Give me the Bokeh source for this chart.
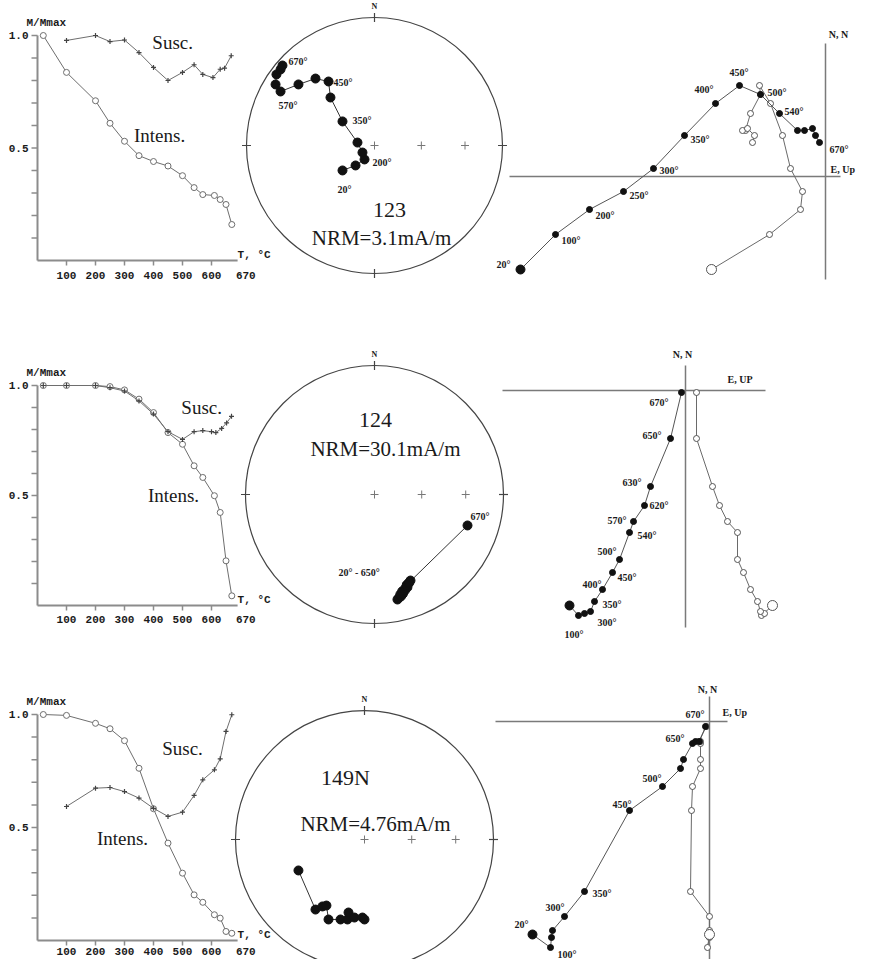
import math
from bokeh.plotting import figure
from bokeh.models import Range1d
from bokeh.core.properties import value
from bokeh.embed import file_html
from bokeh.resources import INLINE

# ================= DATA =================
# --- demagnetisation curves (T in deg C, M/Mmax) ---
dm_xticks = [100, 200, 300, 400, 500, 600]
dm_xtick_labels = ["100", "200", "300", "400", "500", "600"]
dm_yticks = [0.1, 0.2, 0.3, 0.4, 0.5, 0.6, 0.7, 0.8, 0.9, 1.0]
dm_ylabel_vals = [1.0, 0.5]
dm_ylabel_text = ["1.0", "0.5"]

s123_T = [20, 100, 200, 250, 300, 350, 400, 450, 500, 540, 570, 610, 630, 650, 670]
s123_intens = [1.0, 0.836, 0.71, 0.61, 0.53, 0.466, 0.44, 0.42, 0.377, 0.324, 0.293, 0.289, 0.271, 0.249, 0.16]
s123_susc_T = [100, 200, 250, 300, 350, 400, 450, 500, 540, 570, 605, 630, 645, 668]
s123_susc = [0.978, 1.0, 0.973, 0.98, 0.924, 0.858, 0.80, 0.836, 0.87, 0.827, 0.813, 0.85, 0.855, 0.91]

s124_T = [20, 100, 200, 250, 300, 350, 400, 450, 500, 540, 570, 610, 630, 650, 670]
s124_intens = [1.0, 1.0, 1.0, 0.995, 0.98, 0.938, 0.877, 0.786, 0.733, 0.635, 0.582, 0.499, 0.423, 0.203, 0.044]
s124_susc_T = [20, 100, 200, 250, 300, 350, 400, 450, 500, 540, 570, 600, 615, 635, 652, 669]
s124_susc = [1.0, 1.0, 1.0, 0.99, 0.975, 0.93, 0.87, 0.79, 0.755, 0.79, 0.795, 0.79, 0.786, 0.805, 0.83, 0.86]

s149_T = [20, 100, 200, 250, 300, 350, 400, 450, 500, 540, 570, 610, 630, 650, 670]
s149_intens = [1.0, 0.996, 0.961, 0.937, 0.884, 0.762, 0.583, 0.431, 0.298, 0.202, 0.169, 0.114, 0.099, 0.040, 0.032]
s149_susc_T = [100, 200, 250, 300, 350, 400, 450, 500, 540, 570, 610, 630, 650, 670]
s149_susc = [0.593, 0.674, 0.677, 0.659, 0.630, 0.585, 0.549, 0.568, 0.642, 0.711, 0.755, 0.804, 0.925, 0.999]

# --- equal-area stereonets (projected east / north, unit circle) ---
s123_st_E = [-0.25, -0.148, -0.078, -0.094, -0.133, -0.25, -0.344, -0.359, -0.461, -0.594, -0.734, -0.773, -0.766, -0.734, -0.719]
s123_st_N = [-0.195, -0.156, -0.109, -0.055, 0.023, 0.188, 0.375, 0.5, 0.523, 0.477, 0.422, 0.477, 0.555, 0.594, 0.625]
s123_st_lab_idx = [0, 2, 5, 7, 10, 14]
s123_st_lab = ["20°", "200°", "350°", "450°", "570°", "670°"]

s124_st_E = [0.178, 0.19, 0.205, 0.2, 0.22, 0.215, 0.235, 0.24, 0.255, 0.25, 0.265, 0.279, 0.27, 0.721]
s124_st_N = [-0.814, -0.80, -0.79, -0.775, -0.77, -0.75, -0.745, -0.725, -0.72, -0.70, -0.69, -0.667, -0.68, -0.240]
s124_st_lab_idx = [11, 13]
s124_st_lab = ["20° - 650°", "670°"]

s149_st_E = [-0.512, -0.380, -0.326, -0.295, -0.279, -0.186, -0.132, -0.124, -0.078, -0.016, 0.0]
s149_st_N = [-0.240, -0.543, -0.519, -0.512, -0.620, -0.620, -0.620, -0.566, -0.605, -0.605, -0.620]

# --- Zijderveld diagrams (N, E horizontal; N, Up vertical) ---
s123_zT = [20, 100, 200, 250, 300, 350, 400, 450, 500, 540, 570, 600, 620, 650, 670]
s123_zN = [-0.93, -0.58, -0.33, -0.15, 0.08, 0.41, 0.73, 0.91, 0.82, 0.63, 0.46, 0.46, 0.48, 0.41, 0.34]
s123_zE = [-3.05, -2.70, -2.36, -2.02, -1.72, -1.41, -1.10, -0.86, -0.65, -0.46, -0.28, -0.21, -0.13, -0.10, -0.06]
s123_zU = [-1.14, -0.56, -0.25, -0.23, -0.35, -0.43, -0.55, -0.66, -0.65, -0.75, -0.80, -0.83, -0.78, -0.71, -0.73]
s123_z_lab_idx = [0, 1, 2, 3, 4, 5, 6, 7, 8, 9, 14]
s123_z_lab = ["20°", "100°", "200°", "250°", "300°", "350°", "400°", "450°", "500°", "540°", "670°"]

s124_zT = [20, 100, 200, 300, 350, 400, 450, 500, 540, 570, 620, 630, 650, 670]
s124_zN = [-2.15, -2.25, -2.23, -2.21, -2.11, -1.99, -1.82, -1.69, -1.42, -1.31, -1.15, -0.96, -0.48, -0.02]
s124_zE = [-1.16, -1.07, -1.01, -0.95, -0.91, -0.83, -0.73, -0.66, -0.56, -0.52, -0.41, -0.35, -0.15, -0.04]
s124_zU = [0.87, 0.76, 0.79, 0.75, 0.72, 0.65, 0.58, 0.52, 0.52, 0.42, 0.34, 0.27, 0.11, 0.11]
s124_z_lab_idx = [1, 3, 4, 5, 6, 7, 8, 9, 10, 11, 12, 13]
s124_z_lab = ["100°", "300°", "350°", "400°", "450°", "500°", "540°", "570°", "620°", "630°", "650°", "670°"]

s149_zT = [20, 100, 200, 250, 300, 350, 450, 500, 540, 570, 600, 620, 650, 670]
s149_zN = [-2.13, -2.26, -2.16, -2.09, -1.95, -1.70, -0.89, -0.65, -0.47, -0.38, -0.22, -0.20, -0.20, -0.05]
s149_zE = [-1.77, -1.59, -1.58, -1.57, -1.45, -1.25, -0.80, -0.47, -0.29, -0.26, -0.17, -0.14, -0.10, -0.04]
s149_zU = [0.0, -0.02, 0.0, 0.0, 0.0, -0.19, -0.18, -0.17, -0.09, -0.09, -0.09, -0.09, -0.11, -0.03]
s149_z_lab_idx = [0, 1, 4, 5, 6, 7, 10, 13]
s149_z_lab = ["20°", "100°", "300°", "350°", "450°", "500°", "650°", "670°"]

sample_names = ["123", "124", "149N"]
nrm_texts = ["NRM=3.1mA/m", "NRM=30.1mA/m", "NRM=4.76mA/m"]

# ================= LAYOUT / STYLE =================
W, H, OFF = 856, 959, 8
SERIF = "Liberation Serif"
MONO = "Liberation Mono"
AXC = "#8c8c8c"
INK = "#1a1a1a"

p = figure(width=W, height=H, x_range=Range1d(0, W), y_range=Range1d(0, H),
           output_backend="svg", toolbar_location=None, min_border=0,
           x_axis_location=None, y_axis_location=None, outline_line_color=None,
           background_fill_color="white", border_fill_color="white")
p.grid.visible = False
p.xgrid.visible = False
p.ygrid.visible = False

xr, yr = {}, {}


def frame(name, rx0, sx, ry0, sy):
    """data value 0 placed at reference pixel (rx0, ry0) with sx, sy px per unit"""
    cx0 = rx0 - OFF
    xs = -cx0 / sx
    xr[name] = Range1d(xs, xs + W / sx)
    by0 = H - (ry0 - OFF)
    ys = -by0 / sy
    yr[name] = Range1d(ys, ys + H / sy)
    return dict(x_range_name=name, y_range_name=name)


rows = [
    dict(dm=(45, 268, 0.29, 225), st=(382, 153, 128), zj=(833, 184, 100)),
    dict(dm=(45, 613, 0.29, 220), st=(382, 502, 129), zj=(693, 398, 100)),
    dict(dm=(45, 948, 0.29, 226), st=(372, 847, 129), zj=(717, 729, 100)),
]
frames = []
for i, r in enumerate(rows):
    dx0, dy0, dsx, dsy = r["dm"]
    sx0, sy0, ss = r["st"]
    zx0, zy0, zs = r["zj"]
    frames.append(dict(
        dm=frame(f"dm{i}", dx0, dsx, dy0, dsy), dm_s=(dsx, dsy),
        st=frame(f"st{i}", sx0, ss, sy0, ss),
        zj=frame(f"zj{i}", zx0, zs, zy0, zs), zj_s=zs))
p.extra_x_ranges = xr
p.extra_y_ranges = yr


def txt(kw, x, y, t, size, font=SERIF, align="center", style="normal", dx=0, dy=0, color=INK):
    p.text(x=x, y=y, text=t, x_offset=dx, y_offset=dy, text_font=value(font),
           text_font_size=size, text_font_style=style, text_align=align,
           text_baseline="middle", text_color=color, **kw)


def demag(fr, T, I, sT, S, susc_pos, int_pos, lab_dy):
    kw = fr["dm"]
    sx, sy = fr["dm_s"]
    tl_x = 6 / sx
    tl_y = 5 / sy
    # axes
    p.segment(x0=[0, 0], y0=[0, 0], x1=[0, 690], y1=[1.0, 0], line_color=AXC, line_width=2, **kw)
    p.segment(x0=[-tl_x] * len(dm_yticks), y0=dm_yticks, x1=[0] * len(dm_yticks), y1=dm_yticks,
              line_color=AXC, line_width=1.5, **kw)
    p.segment(x0=dm_xticks, y0=[0] * len(dm_xticks), x1=dm_xticks, y1=[-tl_y] * len(dm_xticks),
              line_color=AXC, line_width=1.5, **kw)
    txt(kw, dm_xticks, [0] * len(dm_xticks), dm_xtick_labels, "11px", MONO, style="bold", dy=lab_dy)
    txt(kw, [670], [0], ["670"], "11px", MONO, style="bold", dx=14, dy=lab_dy)
    txt(kw, [690], [0], ["T, °C"], "11px", MONO, align="left", style="bold", dy=-6)
    txt(kw, [0] * 2, dm_ylabel_vals, dm_ylabel_text, "11px", MONO, align="right", style="bold", dx=-9)
    txt(kw, [0], [1.0], ["M/Mmax"], "11px", MONO, align="left", style="bold", dx=-11, dy=-13)
    # curves
    p.line(T, I, line_color="#6e6e6e", line_width=1, **kw)
    p.scatter(T, I, marker="circle", size=6, fill_color="white", line_color="#6e6e6e", line_width=1, **kw)
    p.line(sT, S, line_color="#6e6e6e", line_width=1, **kw)
    p.scatter(sT, S, marker="cross", size=5, line_color="#444444", line_width=1.2, **kw)
    txt(kw, [susc_pos[0]], [susc_pos[1]], ["Susc."], "19px", SERIF)
    txt(kw, [int_pos[0]], [int_pos[1]], ["Intens."], "19px", SERIF)


def stereo(fr, E, N, lab_idx, lab, lab_dx, lab_dy, name, name_pos, nrm, nrm_pos):
    kw = fr["st"]
    p.circle(x=[0], y=[0], radius=1, fill_color=None, line_color="#444444", line_width=1.2, **kw)
    r30 = math.sqrt(2) * math.sin(math.radians(15))
    r60 = math.sqrt(2) * math.sin(math.radians(30))
    p.scatter(x=[0, r30, r60], y=[0, 0, 0], marker="cross", size=8, line_color="#777777", line_width=1, **kw)
    t = 0.035
    p.segment(x0=[0, 1 - t, 0, -1 - t], y0=[1 - t, 0, -1 - t, 0],
              x1=[0, 1 + t, 0, -1 + t], y1=[1 + t, 0, -1 + t, 0],
              line_color="#444444", line_width=1.2, **kw)
    txt(kw, [0], [1], ["N"], "8px", SERIF, style="bold", dy=-11)
    p.line(E, N, line_color="#333333", line_width=1, **kw)
    p.scatter(E, N, marker="circle", size=9, fill_color="#111111", line_color="#111111", **kw)
    if lab:
        txt(kw, [E[i] for i in lab_idx], [N[i] for i in lab_idx], lab, "10px", SERIF,
            align="left", style="bold", dx=lab_dx, dy=lab_dy)
    txt(kw, [name_pos[0]], [name_pos[1]], [name], "22px", SERIF)
    txt(kw, [nrm_pos[0]], [nrm_pos[1]], [nrm], "21px", SERIF)


def zij(fr, E, N, U, lab_idx, lab, lab_dx, lab_dy, hext, vext, nn_off, eu_off, eu_text):
    kw = fr["zj"]
    p.segment(x0=[hext[0], 0], y0=[0, vext[0]], x1=[hext[1], 0], y1=[0, vext[1]],
              line_color="#7a7a7a", line_width=1.5, **kw)
    txt(kw, [0], [vext[1]], ["N, N"], "10px", SERIF, style="bold", dx=nn_off[0], dy=nn_off[1])
    txt(kw, [hext[1]], [0], [eu_text], "10px", SERIF, align="left", style="bold", dx=eu_off[0], dy=eu_off[1])
    # vertical projection (open)
    p.line(U, N, line_color="#6a6a6a", line_width=1, **kw)
    p.scatter(U, N, marker="circle", size=6, fill_color="white", line_color="#555555", **kw)
    p.scatter([U[0]], [N[0]], marker="circle", size=10, fill_color="white", line_color="#555555", **kw)
    # horizontal projection (filled)
    p.line(E, N, line_color="#555555", line_width=1, **kw)
    p.scatter(E, N, marker="circle", size=6, fill_color="#111111", line_color="#111111", **kw)
    p.scatter([E[0]], [N[0]], marker="circle", size=9, fill_color="#111111", line_color="#111111", **kw)
    txt(kw, [E[i] for i in lab_idx], [N[i] for i in lab_idx], lab, "10px", SERIF,
        align="left", style="bold", dx=lab_dx, dy=lab_dy)


# ---- row 1 : 123 ----
f = frames[0]
demag(f, s123_T, s123_intens, s123_susc_T, s123_susc, (466, 0.969), (421, 0.556), 15)
stereo(f, s123_st_E, s123_st_N, s123_st_lab_idx, s123_st_lab,
       [-5, 8, 10, 5, -2, 6], [19, 3, -1, 1, 14, -4],
       sample_names[0], (0.117, -0.5), nrm_texts[0], (0.055, -0.719))
zij(f, s123_zE, s123_zN, s123_zU, s123_z_lab_idx, s123_z_lab,
    [-24, 6, 6, 6, 6, 6, -21, -10, 7, 5, 10], [-5, 6, 6, 4, 2, 4, -14, -13, -2, -2, 7],
    (-3.16, 0.15), (-1.03, 1.33), (13, -9), (-10, -7), "E, Up")

# ---- row 2 : 124 ----
f = frames[1]
demag(f, s124_T, s124_intens, s124_susc_T, s124_susc, (566, 0.90), (469, 0.50), 14)
stereo(f, s124_st_E, s124_st_N, s124_st_lab_idx, s124_st_lab,
       [-72, 3], [-8, -9],
       sample_names[1], (0.008, 0.581), nrm_texts[1], (0.085, 0.349))
zij(f, s124_zE, s124_zN, s124_zU, s124_z_lab_idx, s124_z_lab,
    [-14, 7, 8, -20, 5, -22, 8, -26, 5, -28, -28, -32], [19, 11, 3, -5, 5, -8, 3, -1, 0, -4, -3, 10],
    (-1.83, 0.80), (-2.37, 0.25), (-3, -11), (-38, -11), "E, UP")

# ---- row 3 : 149N ----
f = frames[2]
demag(f, s149_T, s149_intens, s149_susc_T, s149_susc, (500, 0.85), (293, 0.451), 11)
stereo(f, s149_st_E, s149_st_N, [], [], [], [],
       sample_names[2], (-0.147, 0.481), nrm_texts[2], (0.085, 0.124))
zij(f, s149_zE, s149_zN, s149_zU, s149_z_lab_idx, s149_z_lab,
    [-18, 7, -19, 8, -17, -20, -27, -20], [-10, 7, -9, 2, -6, -8, -5, -12],
    (-2.14, 0.18), (-2.40, 0.25), (-2, -7), (-5, -9), "E, Up")

open("out.html", "w").write(file_html(p, INLINE))
